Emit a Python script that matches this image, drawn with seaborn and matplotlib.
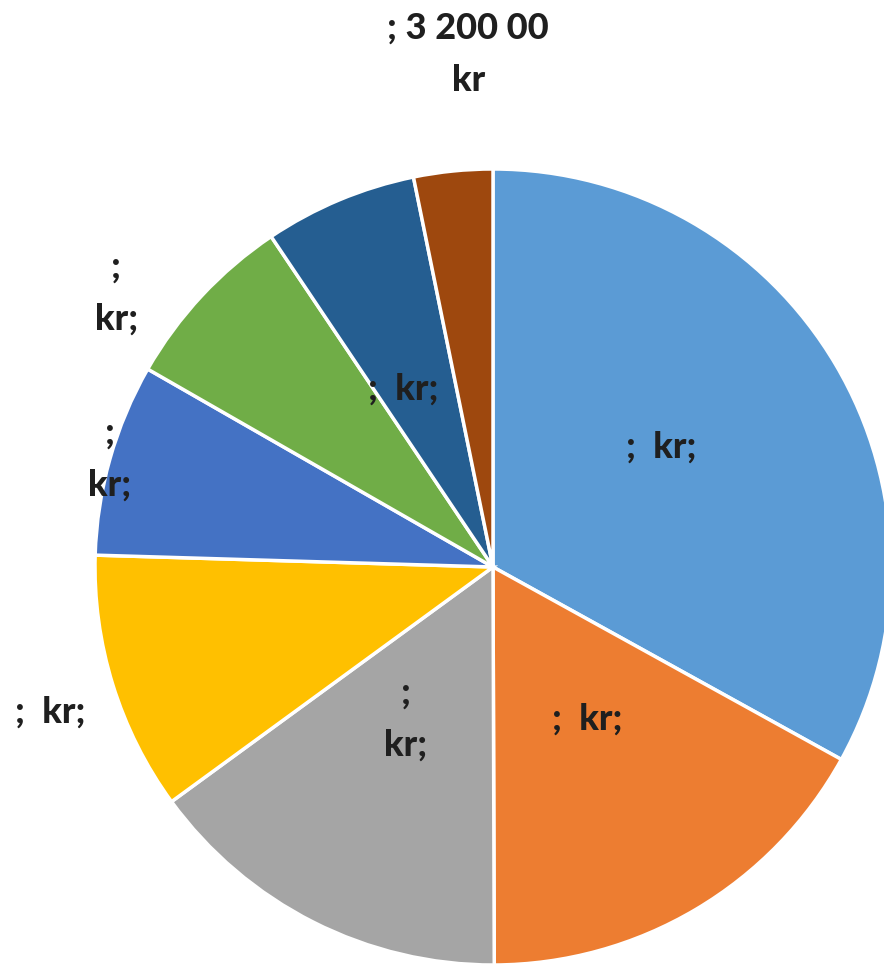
import numpy as np
import matplotlib.pyplot as plt
import seaborn as sns

# Slice data (clockwise from 12 o'clock)
amounts = [3300000, 1690000, 1500000, 1050000, 780000, 730000, 620000, 320000]
labels = [";  kr;", ";  kr;", ";\nkr;", ";  kr;", ";\nkr;", ";\nkr;", ";  kr;", "; 3 200 00\nkr"]
colors = ["#5B9BD5", "#ED7D31", "#A5A5A5", "#FFC000", "#4472C4", "#70AD47", "#255E91", "#9E480E"]
# radial position of each label as fraction of radius, and small angle nudge (deg)
label_r = [0.52, 0.45, 0.44, 1.17, 1.0, 1.17, 0.5, 1.29]
label_dang = [5, 1, -3, 1, 0, 7, 4, -3]

sns.set_theme(style="white")
plt.rcParams['font.family'] = ['Lato', 'DejaVu Sans']

W, H = 884, 968
fig = plt.figure(figsize=(W / 100, H / 100), dpi=100)
ax = fig.add_axes([0, 0, 1, 1])

cx, cy, R = 493, H - 567, 398
wedges, _ = ax.pie(amounts, colors=colors, startangle=90, counterclock=False,
                   center=(cx, cy), radius=R, frame=True,
                   wedgeprops=dict(edgecolor='white', linewidth=2.5))
ax.set_xlim(0, W)
ax.set_ylim(0, H)
ax.set_aspect('equal')
ax.axis('off')

for w, lab, r, da in zip(wedges, labels, label_r, label_dang):
    ang = np.deg2rad((w.theta1 + w.theta2) / 2 + da)
    x = cx + r * R * np.cos(ang)
    y = cy + r * R * np.sin(ang)
    ax.text(x, y, lab, ha='center', va='center', fontsize=26, fontweight='black',
            color='#1f1f1f', linespacing=1.7)

fig.savefig('out.png', dpi=100)
